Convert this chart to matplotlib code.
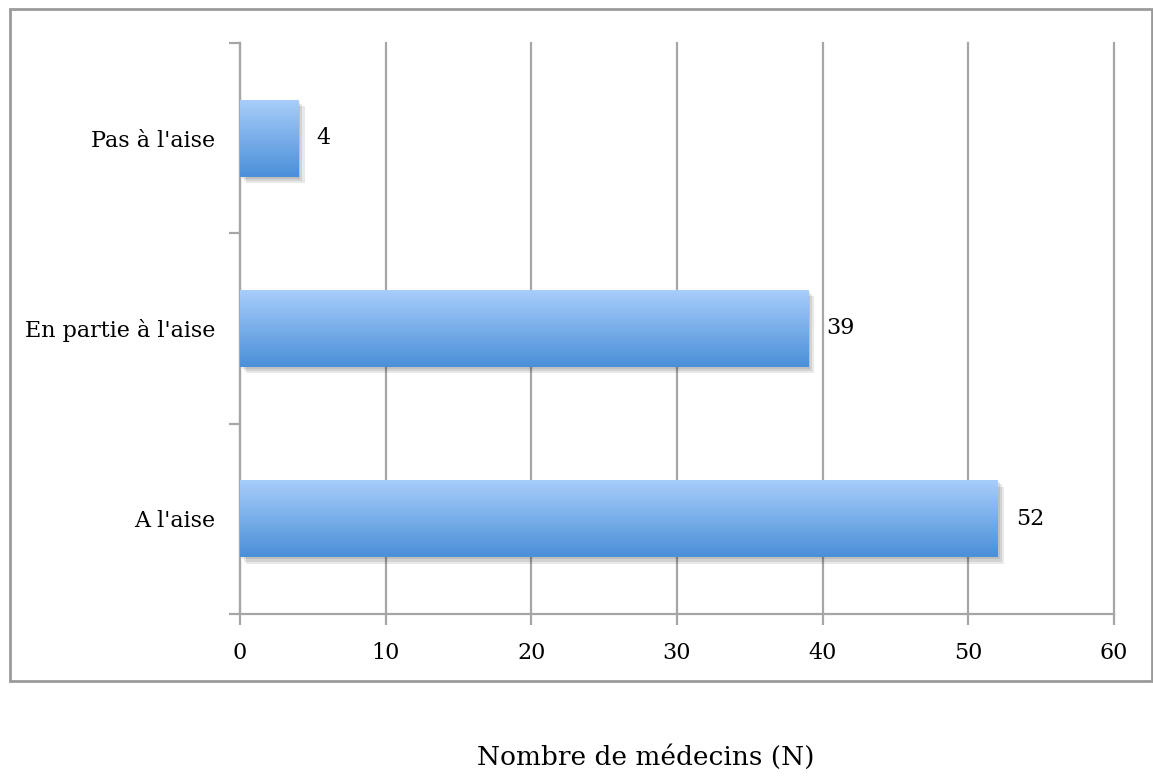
import numpy as np
import matplotlib
matplotlib.use("Agg")
import matplotlib.pyplot as plt
from matplotlib.patches import Rectangle
from matplotlib.colors import LinearSegmentedColormap
import matplotlib.patheffects as pe

categories = ["A l'aise", "En partie à l'aise", "Pas à l'aise"]
values = [52, 39, 4]
xticks = [0, 10, 20, 30, 40, 50, 60]
xlabel = "Nombre de médecins (N)"

W, H = 1153, 776
fig = plt.figure(figsize=(W / 100, H / 100), dpi=100)
plt.rcParams['font.family'] = ['DejaVu Serif']

# outer frame
fig.patches.append(Rectangle((10 / W, 1 - 681 / H), (1152 - 10) / W, (681 - 9) / H,
                             transform=fig.transFigure, fill=False,
                             edgecolor='#9a9a9a', linewidth=2.0))

ax = fig.add_axes([240 / W, 1 - 614 / H, (1114 - 240) / W, (614 - 43) / H])
ax.set_xlim(0, 60)
ax.set_ylim(-0.5, 2.5)
ax.patch.set_visible(False)

grid_c = '#a6a6a6'
fs = 16
for s in ['top', 'right']:
    ax.spines[s].set_visible(False)
for s in ['left', 'bottom']:
    ax.spines[s].set_color(grid_c)
    ax.spines[s].set_linewidth(1.6)
ax.set_xticks(xticks)
ax.set_xticklabels([str(t) for t in xticks], fontsize=fs)
ax.set_yticks([-0.5, 0.5, 1.5, 2.5])
ax.set_yticklabels([])
ax.set_yticks(range(len(categories)), minor=True)
ax.set_yticklabels(categories, minor=True, fontsize=fs)
ax.tick_params(axis='y', which='minor', length=0, pad=18)
ax.tick_params(axis='y', which='major', length=8, width=1.6, color=grid_c)
ax.tick_params(axis='x', length=8, width=1.6, color=grid_c, pad=12)
ax.xaxis.grid(True, color=grid_c, linewidth=1.6)
for gl in ax.get_xgridlines():
    gl.set_clip_on(False)
ax.set_axisbelow(True)

cmap = LinearSegmentedColormap.from_list('bar', ['#4a8fd8', '#a9cefb'])
grad = np.linspace(0, 1, 256).reshape(-1, 1)
bh = 0.405
ys = np.arange(len(categories))
shadow = [pe.SimplePatchShadow(offset=(d, -d), shadow_rgbFace='#000000', alpha=0.09)
          for d in (1.5, 3, 4.5)]
bars = ax.barh(ys, values, height=bh, color='#76aaea', zorder=3,
               path_effects=shadow + [pe.Normal()])
for b, v, y in zip(bars, values, ys):
    im = ax.imshow(grad, cmap=cmap, aspect='auto', origin='lower',
                   extent=[0, v, y - bh / 2, y + bh / 2], zorder=4)
    im.set_clip_path(b)
    ax.text(v + 1.25, y, str(v), va='center', ha='left', fontsize=fs, zorder=5)
ax.set_xlim(0, 60)
ax.set_ylim(-0.5, 2.5)

fig.text(646 / W, 1 - 757 / H, xlabel, ha='center', va='center', fontsize=19)

fig.savefig('out.png', dpi=100)
